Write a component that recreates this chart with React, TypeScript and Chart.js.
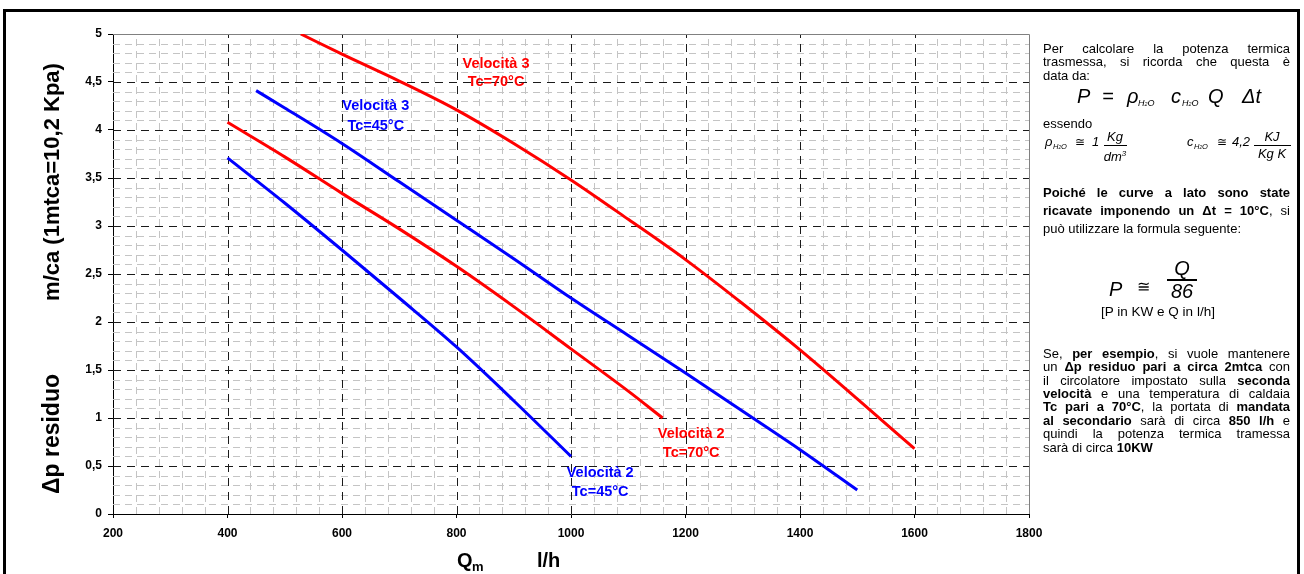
import React, { useEffect, useRef } from 'react';
import { Chart, registerables } from 'chart.js';

Chart.register(...registerables);

const FONT = 'Arial, "Liberation Sans", Helvetica, sans-serif';

// ---- data (Q in l/h, Δp in m c.a.) ----
const vel3Tc70Q = [528, 600, 700, 800, 900, 1000, 1100, 1200, 1300, 1400, 1500, 1600];
const vel3Tc70Dp = [5.0, 4.79, 4.51, 4.21, 3.86, 3.48, 3.07, 2.65, 2.19, 1.71, 1.2, 0.68];

const vel3Tc45Q = [450, 500, 600, 700, 800, 900, 1000, 1100, 1200, 1300, 1400, 1500];
const vel3Tc45Dp = [4.41, 4.23, 3.86, 3.46, 3.06, 2.66, 2.25, 1.86, 1.47, 1.07, 0.67, 0.25];

const vel2Tc70Q = [400, 500, 600, 700, 800, 900, 1000, 1100, 1160];
const vel2Tc70Dp = [4.08, 3.72, 3.34, 2.97, 2.58, 2.16, 1.72, 1.28, 1.0];

const vel2Tc45Q = [400, 500, 600, 700, 800, 900, 1000];
const vel2Tc45Dp = [3.71, 3.24, 2.75, 2.25, 1.74, 1.18, 0.6];

const xTickLabels = ['200', '400', '600', '800', '1000', '1200', '1400', '1600', '1800'];
const yTickLabels = ['0', '0,5', '1', '1,5', '2', '2,5', '3', '3,5', '4', '4,5', '5'];

// curve labels: [line1, line2], anchor in data units (x centre, y line1, y line2)
const curveLabelText = [
  ['Velocità 3', 'Tc=70°C'],
  ['Velocità 3', 'Tc=45°C'],
  ['Velocità 2', 'Tc=70°C'],
  ['Velocità 2', 'Tc=45°C'],
];
const curveLabelQ = [869, 659, 1210, 1051];
const curveLabelDp1 = [4.69, 4.25, 0.833, 0.427];
const curveLabelDp2 = [4.5, 4.04, 0.635, 0.229];
const RED = '#ff0000';
const BLUE = '#0000ff';
const curveColors = [RED, BLUE, RED, BLUE];

const yTitleLow = 'Δp residuo';
const yTitleHigh = 'm/ca (1mtca=10,2 Kpa)';

const toPoints = (q: number[], dp: number[]) => q.map((v, i) => ({ x: v, y: dp[i] }));

const gridPlugin = {
  id: 'customGrid',
  beforeDatasetsDraw(chart: any) {
    const { ctx, chartArea: a, scales } = chart;
    const xs = scales.x;
    const ys = scales.y;
    const px = (v: number) => Math.round(xs.getPixelForValue(v)) + 0.5;
    const py = (v: number) => Math.round(ys.getPixelForValue(v)) + 0.5;
    ctx.save();
    ctx.lineWidth = 1;
    // minor grid
    ctx.strokeStyle = '#c4c4c4';
    ctx.setLineDash([7, 5]);
    for (let i = 1; i < 40; i++) {
      if (i % 5 === 0) continue;
      const X = px(200 + i * 40);
      ctx.beginPath();
      ctx.moveTo(X, a.bottom);
      ctx.lineTo(X, a.top);
      ctx.stroke();
    }
    for (let i = 1; i < 50; i++) {
      if (i % 5 === 0) continue;
      const Y = py(i / 10);
      ctx.beginPath();
      ctx.moveTo(a.left, Y);
      ctx.lineTo(a.right, Y);
      ctx.stroke();
    }
    // major grid
    ctx.strokeStyle = '#1a1a1a';
    ctx.setLineDash([8, 6]);
    for (let i = 1; i < 8; i++) {
      const X = px(200 + i * 200);
      ctx.beginPath();
      ctx.moveTo(X, a.bottom);
      ctx.lineTo(X, a.top);
      ctx.stroke();
    }
    for (let i = 1; i < 10; i++) {
      const Y = py(i * 0.5);
      ctx.beginPath();
      ctx.moveTo(a.left, Y);
      ctx.lineTo(a.right, Y);
      ctx.stroke();
    }
    // top / right frame of plot
    ctx.setLineDash([]);
    ctx.strokeStyle = '#808080';
    ctx.beginPath();
    ctx.moveTo(a.left, py(5));
    ctx.lineTo(px(1800), py(5));
    ctx.lineTo(px(1800), a.bottom);
    ctx.stroke();
    ctx.restore();
  },
};

const labelPlugin = {
  id: 'curveLabels',
  afterDatasetsDraw(chart: any) {
    const { ctx, scales } = chart;
    ctx.save();
    ctx.font = `bold 14.5px ${FONT}`;
    ctx.textAlign = 'center';
    ctx.textBaseline = 'middle';
    curveLabelText.forEach((lines, i) => {
      ctx.fillStyle = curveColors[i];
      const X = scales.x.getPixelForValue(curveLabelQ[i]);
      ctx.fillText(lines[0], X, scales.y.getPixelForValue(curveLabelDp1[i]));
      ctx.fillText(lines[1], X, scales.y.getPixelForValue(curveLabelDp2[i]));
    });
    ctx.restore();
  },
};

const titlePlugin = {
  id: 'axisTitles',
  afterDraw(chart: any) {
    const { ctx } = chart;
    ctx.save();
    ctx.fillStyle = '#000';
    ctx.font = `bold 22px ${FONT}`;
    ctx.textAlign = 'center';
    ctx.textBaseline = 'alphabetic';
    ctx.save();
    ctx.translate(58.5, 434);
    ctx.rotate(-Math.PI / 2);
    ctx.font = `bold 23px ${FONT}`;
    ctx.fillText(yTitleLow, 0, 0);
    ctx.restore();
    ctx.save();
    ctx.translate(58.5, 182);
    ctx.rotate(-Math.PI / 2);
    ctx.fillText(yTitleHigh, 0, 0);
    ctx.restore();
    // x title
    ctx.textAlign = 'left';
    ctx.font = `bold 20px ${FONT}`;
    ctx.fillText('Q', 457, 567);
    ctx.font = `bold 13px ${FONT}`;
    ctx.fillText('m', 472, 571);
    ctx.font = `bold 20px ${FONT}`;
    ctx.fillText('l/h', 537, 567);
    ctx.restore();
  },
};

type TProps = {
  x: number;
  b: number;
  size: number;
  italic?: boolean;
  bold?: boolean;
  center?: boolean;
  children: React.ReactNode;
  style?: React.CSSProperties;
};

function T({ x, b, size, italic, bold, center, children, style }: TProps) {
  const w = 200;
  return (
    <div
      style={{
        position: 'absolute',
        left: center ? x - w / 2 : x,
        width: center ? w : undefined,
        textAlign: center ? 'center' : 'left',
        top: b - 0.8465 * size,
        fontFamily: FONT,
        fontSize: size,
        lineHeight: `${size}px`,
        fontStyle: italic ? 'italic' : 'normal',
        fontWeight: bold ? 'bold' : 'normal',
        whiteSpace: 'nowrap',
        color: '#000',
        ...style,
      }}
    >
      {children}
    </div>
  );
}

function Bar({ x1, x2, y, h = 1 }: { x1: number; x2: number; y: number; h?: number }) {
  return <div style={{ position: 'absolute', left: x1, top: y, width: x2 - x1, height: h, background: '#000' }} />;
}

function Sub({ x, b, size }: { x: number; b: number; size: number }) {
  return (
    <T x={x} b={b} size={size} italic>
      H<span style={{ fontSize: size * 0.6 }}>2</span>O
    </T>
  );
}

function PLine({ c, justify, children }: { c: number; justify?: boolean; children: React.ReactNode }) {
  return (
    <div
      style={{
        position: 'absolute',
        left: 1043,
        width: 247,
        top: c - 6.35,
        fontFamily: FONT,
        fontSize: 13,
        lineHeight: '13px',
        textAlign: 'justify',
        textAlignLast: justify ? 'justify' : 'left',
        color: '#000',
      } as React.CSSProperties}
    >
      {children}
    </div>
  );
}

export default function App() {
  const canvasRef = useRef<HTMLCanvasElement | null>(null);

  useEffect(() => {
    if (!canvasRef.current) return;
    const mk = (q: number[], dp: number[], color: string) => ({
      data: toPoints(q, dp),
      borderColor: color,
      backgroundColor: color,
      borderWidth: 3,
      pointRadius: 0,
      borderCapStyle: 'butt' as const,
      cubicInterpolationMode: 'monotone' as const,
      fill: false,
    });
    const tickFont = { family: FONT, size: 12, weight: 'bold' as const };
    const chart = new Chart(canvasRef.current, {
      type: 'line',
      data: {
        datasets: [
          mk(vel3Tc70Q, vel3Tc70Dp, RED),
          mk(vel3Tc45Q, vel3Tc45Dp, BLUE),
          mk(vel2Tc70Q, vel2Tc70Dp, RED),
          mk(vel2Tc45Q, vel2Tc45Dp, BLUE),
        ],
      },
      options: {
        animation: false,
        responsive: false,
        maintainAspectRatio: false,
        layout: { padding: { left: 0, top: 34, right: 275, bottom: 0 } },
        plugins: { legend: { display: false }, tooltip: { enabled: false } },
        scales: {
          x: {
            type: 'linear',
            min: 200,
            max: 1800,
            afterFit: (s: any) => {
              s.height = 60;
            },
            ticks: {
              stepSize: 200,
              color: '#000',
              font: tickFont,
              padding: 8,
              maxRotation: 0,
              callback: (_v: any, i: number) => xTickLabels[i],
            },
            grid: { drawOnChartArea: false, drawTicks: true, tickLength: 4, color: '#000' },
            border: { display: true, color: '#000', width: 1 },
          },
          y: {
            type: 'linear',
            min: 0,
            max: 5,
            afterFit: (s: any) => {
              s.width = 113;
            },
            ticks: {
              stepSize: 0.5,
              color: '#000',
              font: tickFont,
              padding: 6,
              callback: (_v: any, i: number) => yTickLabels[i],
            },
            grid: { drawOnChartArea: false, drawTicks: true, tickLength: 5, color: '#000' },
            border: { display: true, color: '#000', width: 1 },
          },
        },
      } as any,
      plugins: [gridPlugin, labelPlugin, titlePlugin],
    });
    return () => chart.destroy();
  }, []);

  return (
    <div style={{ position: 'absolute', left: 0, top: 0, width: 1304, height: 574, overflow: 'hidden', background: '#fff' }}>
      <canvas ref={canvasRef} width={1304} height={574} style={{ position: 'absolute', left: 0, top: 0, width: 1304, height: 574 }} />
      <div
        style={{
          position: 'absolute',
          left: 3,
          top: 9,
          width: 1297,
          height: 620,
          border: '3px solid #000',
          boxSizing: 'border-box',
          pointerEvents: 'none',
        }}
      />

      <PLine c={48.3} justify>Per calcolare la potenza termica</PLine>
      <PLine c={61.7} justify>trasmessa, si ricorda che questa è</PLine>
      <PLine c={75.1}>data da:</PLine>

      {/* P = ρ c Q Δt */}
      <T x={1077} b={103} size={20} italic>P</T>
      <T x={1102} b={103} size={20} italic>=</T>
      <T x={1127} b={103} size={20} italic>ρ</T>
      <Sub x={1138} b={107} size={9} />
      <T x={1171} b={103} size={20} italic>c</T>
      <Sub x={1182} b={107} size={9} />
      <T x={1208} b={103} size={20} italic>Q</T>
      <T x={1242} b={103} size={20} italic>Δt</T>

      <PLine c={123}>essendo</PLine>

      {/* densità e calore specifico */}
      <T x={1045} b={146} size={13} italic>ρ</T>
      <Sub x={1053} b={149} size={7.5} />
      <T x={1075} b={146} size={12}>≅</T>
      <T x={1092} b={146} size={13} italic>1</T>
      <T x={1115} b={141} size={13} italic center>Kg</T>
      <Bar x1={1104} x2={1127} y={145} />
      <T x={1115} b={158} size={13} italic center>
        dm<sup style={{ fontSize: 8, verticalAlign: 5 }}>3</sup>
      </T>
      <T x={1187} b={146} size={13} italic>c</T>
      <Sub x={1194} b={149} size={7.5} />
      <T x={1217} b={146} size={12}>≅</T>
      <T x={1232} b={146} size={13} italic>4,2</T>
      <T x={1272} b={141} size={13} italic center>KJ</T>
      <Bar x1={1254} x2={1291} y={145} />
      <T x={1272} b={158} size={13} italic center>Kg K</T>

      <PLine c={192} justify><b>Poiché le curve a lato sono state</b></PLine>
      <PLine c={210} justify><b>ricavate imponendo un Δt = 10°C</b>, si</PLine>
      <PLine c={228}>può utilizzare la formula seguente:</PLine>

      {/* P ≅ Q / 86 */}
      <T x={1109} b={296} size={20} italic>P</T>
      <T x={1137} b={293} size={16}>≅</T>
      <T x={1182} b={275} size={20} italic center>Q</T>
      <Bar x1={1167} x2={1197} y={279} h={1.5} />
      <T x={1182} b={298} size={20} italic center>86</T>
      <T x={1158} b={316} size={13.5} center>[P in KW e Q in l/h]</T>

      <PLine c={353} justify>Se, <b>per esempio</b>, si vuole mantenere</PLine>
      <PLine c={366.5} justify>un <b>Δp residuo pari a circa 2mtca</b> con</PLine>
      <PLine c={380} justify>il circolatore impostato sulla <b>seconda</b></PLine>
      <PLine c={393.4} justify><b>velocità</b> e una temperatura di caldaia</PLine>
      <PLine c={406.8} justify><b>Tc pari a 70°C</b>, la portata di <b>mandata</b></PLine>
      <PLine c={420.3} justify><b>al secondario</b> sarà di circa <b>850 l/h</b> e</PLine>
      <PLine c={433.7} justify>quindi la potenza termica tramessa</PLine>
      <PLine c={447.2}>sarà di circa <b>10KW</b></PLine>
    </div>
  );
}
